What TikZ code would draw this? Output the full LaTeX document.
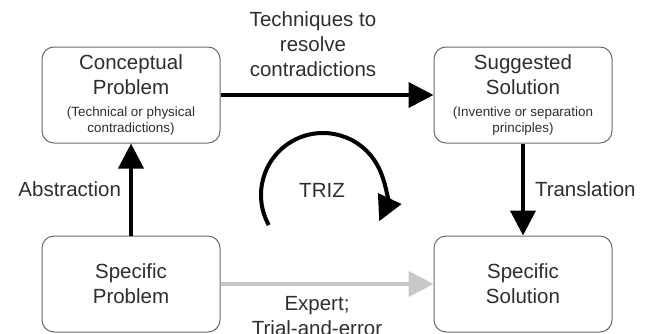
\documentclass[tikz,border=0pt]{standalone}
\usepackage{fontspec}
\setmainfont{Liberation Sans}
\usetikzlibrary{positioning}
\usetikzlibrary{arrows.meta}
\definecolor{boxgray}{HTML}{6A6A6A}
\definecolor{textgray}{HTML}{2E2E2E}
\definecolor{lightarrow}{HTML}{C8C8C8}
\newcommand{\subnote}[1]{{\fontsize{13.4}{16}\selectfont #1}}
\tikzset{
        % Rounded boxes
        node_box/.style={rectangle, rounded corners=12pt, draw=boxgray, line width=1pt, fill=white, align=center, text=textgray, minimum width=178pt, minimum height=96pt, inner sep=0pt, font=\fontsize{20.5}{25}\selectfont},
        % Labels next to arrows
        node_label/.style={align=center, text=textgray, inner sep=2pt, font=\fontsize{20.5}{25}\selectfont},
        % Thick black arrows
        arrow_main/.style={line width=4pt, -{Triangle[length=25pt,width=25pt]}},
        % Light gray arrow
        arrow_light/.style={arrow_main, draw=lightarrow, fill=lightarrow}
}
\begin{document}
\begin{tikzpicture}[x=1pt, y=-1pt]
            \useasboundingbox (0,0) rectangle (649,333);
            \node[node_box] (conc) at (131,95) {Conceptual\\Problem\\[-3pt]\subnote{(Technical or physical}\\[-9pt]\subnote{contradictions)}};
            \node[node_box, right=213pt of conc] (sugg) {Suggested\\Solution\\[-3pt]\subnote{(Inventive or separation}\\[-9pt]\subnote{principles)}};
            \node[node_box, below=92pt of conc] (sprob) {Specific\\Problem};
            \node[node_box, below=92pt of sugg] (ssol) {Specific\\Solution};
            % arrows between boxes
            \draw[arrow_main] (conc) -- node[node_label, above=14pt, xshift=-14pt] {Techniques to\\resolve\\contradictions} (sugg);
            \draw[arrow_main] (sprob) -- node[node_label, left=6pt] {Abstraction} (conc);
            \draw[arrow_main] (sugg) -- node[node_label, right=8pt] {Translation} (ssol);
            \draw[arrow_light] (sprob) -- node[node_label, below=8pt, xshift=-10pt] {Expert;\\Trial-and-error} (ssol);
            % TRIZ cycle
            \node[node_label] (triz) at (322,190) {TRIZ};
            \coordinate (trizc) at (323,195);
            \draw[arrow_main] ([shift={(209:62pt)}]trizc) arc[start angle=209, end angle=-25, radius=62pt];
\end{tikzpicture}
\end{document}
